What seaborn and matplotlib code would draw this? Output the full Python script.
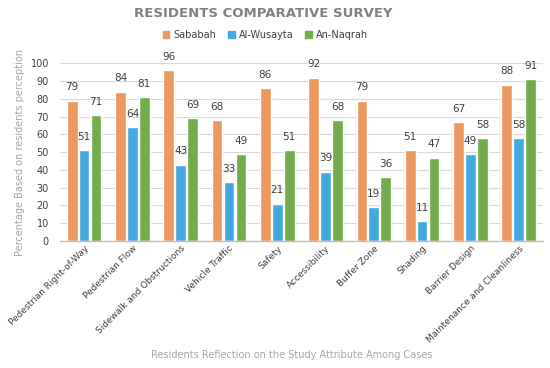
import pandas as pd
import matplotlib
matplotlib.use('Agg')
import matplotlib.pyplot as plt
import seaborn as sns

# data
attributes = ['Pedestrian Right-of-Way', 'Pedestrian Flow', 'Sidewalk and Obstructions',
              'Vehicle Traffic', 'Safety', 'Accessibility', 'Buffer Zone', 'Shading',
              'Barrier Design', 'Maintenance and Cleanliness']
cases = ['Sababah', 'Al-Wusayta', 'An-Naqrah']
sababah = [79, 84, 96, 68, 86, 92, 79, 51, 67, 88]
al_wusayta = [51, 64, 43, 33, 21, 39, 19, 11, 49, 58]
an_naqrah = [71, 81, 69, 49, 51, 68, 36, 47, 58, 91]
colors = ['#EC9960', '#45A9E1', '#71AE4A']

df = pd.DataFrame({
    'Attribute': attributes * 3,
    'Case': [c for c in cases for _ in attributes],
    'Value': sababah + al_wusayta + an_naqrah,
})

sns.set_theme(style='white')
plt.rcParams['font.family'] = ['DejaVu Sans']

fig = plt.figure(figsize=(5.5, 3.68), dpi=100)
ax = fig.add_axes([0.109, 0.345, 0.878, 0.483])

sns.barplot(data=df, x='Attribute', y='Value', hue='Case', hue_order=cases,
            palette=colors, saturation=1, width=0.74, gap=0.1, ax=ax, legend=False)

for cont in ax.containers:
    ax.bar_label(cont, padding=6, fontsize=7.5, color='#404040')

ax.set_ylim(0, 100)
ax.set_yticks(range(0, 101, 10))
ax.tick_params(axis='y', labelsize=7, colors='#404040', length=0, pad=8)
ax.tick_params(axis='x', length=0, pad=2)
ax.set_xticks(range(len(attributes)))
ax.set_xticklabels(attributes, rotation=45, ha='right', rotation_mode='anchor',
                   fontsize=6.5, color='#404040')
ax.grid(axis='y', color='#D9D9D9', linewidth=0.8)
ax.set_axisbelow(True)
for s in ['top', 'right', 'left']:
    ax.spines[s].set_visible(False)
ax.spines['bottom'].set_color('#BFBFBF')
ax.spines['bottom'].set_linewidth(1.0)

ax.set_ylabel('Percentage Based on residents perception', fontsize=7,
              color='#A6A6A6', labelpad=4)
ax.set_xlabel('')
fig.text(0.53, 0.035, 'Residents Reflection on the Study Attribute Among Cases',
         ha='center', va='center', fontsize=7, color='#A6A6A6')

fig.text(0.478, 0.962, 'RESIDENTS COMPARATIVE SURVEY', ha='center', va='center',
         fontsize=9.5, fontweight='bold', color='#808080')

handles = [plt.Rectangle((0, 0), 1, 1, color=c) for c in colors]
fig.legend(handles, cases, loc='center', bbox_to_anchor=(0.482, 0.905), ncol=3,
           frameon=False, fontsize=7, handlelength=0.7, handleheight=0.7,
           handletextpad=0.4, columnspacing=1.2, labelcolor='#404040')

plt.savefig('out.png', dpi=100)
